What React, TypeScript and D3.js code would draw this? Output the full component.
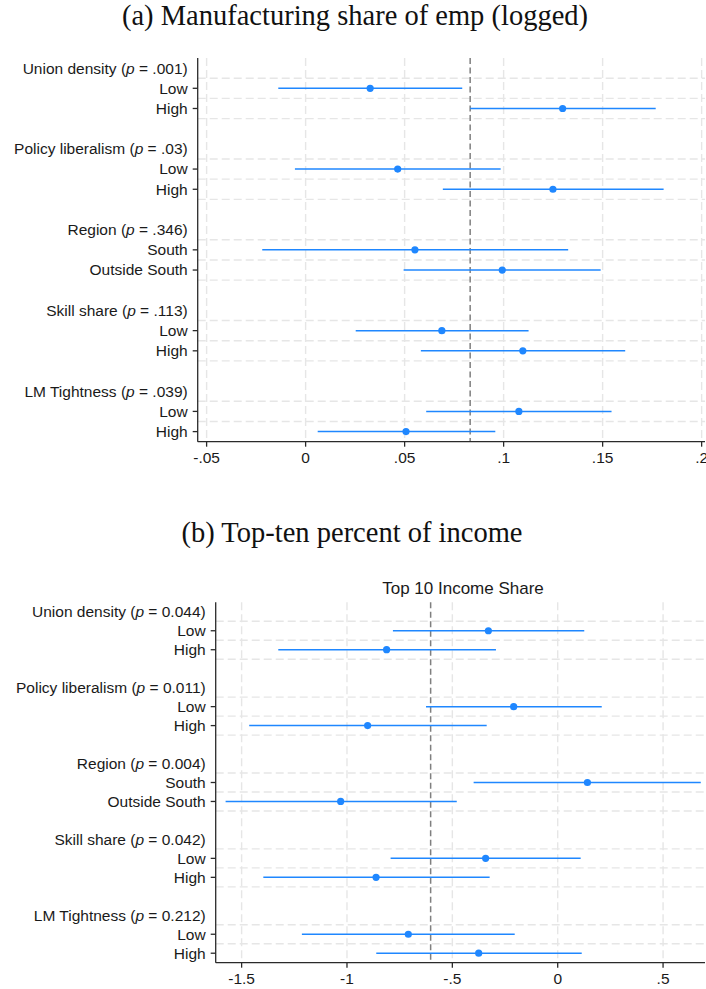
import React from "react";
import * as d3 from "d3";

// ---- Data ----
const groups = ["Union density", "Policy liberalism", "Region", "Skill share", "LM Tightness"];
const levels = [["Low", "High"], ["Low", "High"], ["South", "Outside South"], ["Low", "High"], ["Low", "High"]];

// Panel (a): Manufacturing share of emp (logged)
const pValuesA = [".001", ".03", ".346", ".113", ".039"];
const estA = [0.0326, 0.1298, 0.0465, 0.1249, 0.0552, 0.0993, 0.0688, 0.1097, 0.1077, 0.0507];
const lowA = [-0.0138, 0.0831, -0.0054, 0.0693, -0.0219, 0.0495, 0.0253, 0.0582, 0.0609, 0.0061];
const highA = [0.0791, 0.1768, 0.0985, 0.1808, 0.1326, 0.149, 0.1126, 0.1614, 0.1545, 0.0958];
const ticksA = [-0.05, 0, 0.05, 0.1, 0.15, 0.2];
const tickLabelsA = ["-.05", "0", ".05", ".1", ".15", ".2"];
const refA = 0.0831;

// Panel (b): Top-ten percent of income
const pValuesB = ["0.044", "0.011", "0.004", "0.042", "0.212"];
const estB = [-0.329, -0.812, -0.209, -0.902, 0.141, -1.03, -0.342, -0.862, -0.709, -0.375];
const lowB = [-0.782, -1.326, -0.625, -1.464, -0.399, -1.576, -0.793, -1.397, -1.214, -0.861];
const highB = [0.126, -0.293, 0.209, -0.337, 0.679, -0.479, 0.109, -0.323, -0.204, 0.114];
const ticksB = [-1.5, -1, -0.5, 0, 0.5];
const tickLabelsB = ["-1.5", "-1", "-.5", "0", ".5"];
const refB = -0.603;

const BLUE = "#1f87ff";
const GRID = "#e6e6e6";
const AXIS = "#2a2a2a";
const TEXT = "#1a1a1a";
const SANS = "'Liberation Sans', Arial, Helvetica, sans-serif";
const SERIF = "'Liberation Serif', 'Times New Roman', serif";

type PanelProps = {
  left: number; right: number; top: number; bottom: number;
  domain: [number, number];
  pValues: string[]; est: number[]; low: number[]; high: number[];
  ticks: number[]; tickLabels: string[]; refVal: number;
};

function Panel(props: PanelProps) {
  const { left, right, top, bottom, domain, pValues, est, low, high, ticks, tickLabels, refVal } = props;
  const x = d3.scaleLinear().domain(domain).range([left, right]);
  const nRows = groups.length * 4 - 1; // 19 rows
  const y = d3.scaleLinear().domain([-0.5, nRows - 0.5]).range([top, bottom]);
  const fs = 15.5;

  const gridRows: number[] = [];
  groups.forEach((_, g) => {
    gridRows.push(4 * g + 0.5, 4 * g + 1.5);
    if (g < groups.length - 1) gridRows.push(4 * g + 2.5);
  });

  const items: { row: number; i: number; label: string }[] = [];
  groups.forEach((_, g) => {
    levels[g].forEach((lab, k) => items.push({ row: 4 * g + 1 + k, i: g * 2 + k, label: lab }));
  });

  return (
    <g>
      {/* horizontal grid */}
      {gridRows.map((r) => (
        <line key={"h" + r} x1={left} x2={right} y1={y(r)} y2={y(r)} stroke={GRID} strokeWidth={1.4} strokeDasharray="8,4" />
      ))}
      {/* vertical grid */}
      {ticks.map((t) => (
        <line key={"v" + t} x1={x(t)} x2={x(t)} y1={top} y2={bottom} stroke={GRID} strokeWidth={1.4} strokeDasharray="8,4" />
      ))}
      {/* reference line */}
      <line x1={x(refVal)} x2={x(refVal)} y1={top} y2={bottom} stroke="#7f7f7f" strokeWidth={1.5} strokeDasharray="6,3.5" />
      {/* CIs and points */}
      {items.map((it) => (
        <g key={"p" + it.i}>
          <line x1={x(low[it.i])} x2={x(high[it.i])} y1={y(it.row)} y2={y(it.row)} stroke={BLUE} strokeWidth={1.5} />
          <circle cx={x(est[it.i])} cy={y(it.row)} r={3.6} fill={BLUE} />
        </g>
      ))}
      {/* axes */}
      <line x1={left} x2={left} y1={top} y2={bottom} stroke={AXIS} strokeWidth={1.3} />
      <line x1={left} x2={right} y1={bottom} y2={bottom} stroke={AXIS} strokeWidth={1.3} />
      {/* x ticks */}
      {ticks.map((t, k) => (
        <g key={"xt" + t}>
          <line x1={x(t)} x2={x(t)} y1={bottom} y2={bottom + 5} stroke={AXIS} strokeWidth={1.3} />
          <text x={x(t)} y={bottom + 21} textAnchor="middle" fontFamily={SANS} fontSize={fs} fill={TEXT}>{tickLabels[k]}</text>
        </g>
      ))}
      {/* group headers */}
      {groups.map((gname, g) => (
        <text key={"gh" + g} x={left - 10} y={y(4 * g)} dy="0.35em" textAnchor="end" fontFamily={SANS} fontSize={fs} fill={TEXT}>
          {gname} (<tspan fontStyle="italic">p</tspan> = {pValues[g]})
        </text>
      ))}
      {/* level labels with ticks */}
      {items.map((it) => (
        <g key={"yl" + it.i}>
          <line x1={left - 5} x2={left} y1={y(it.row)} y2={y(it.row)} stroke={AXIS} strokeWidth={1.3} />
          <text x={left - 10} y={y(it.row)} dy="0.35em" textAnchor="end" fontFamily={SANS} fontSize={fs} fill={TEXT}>{it.label}</text>
        </g>
      ))}
    </g>
  );
}

export default function App() {
  const W = 706, H = 989;
  return (
    <svg width={W} height={H} style={{ position: "absolute", left: 0, top: 0, background: "#fff" }}>
      <rect x={0} y={0} width={W} height={H} fill="#fff" />
      <text x={355} y={25} textAnchor="middle" fontFamily={SERIF} fontSize={28.5} fill="#111">(a) Manufacturing share of emp (logged)</text>
      <Panel left={197.7} right={705} top={58} bottom={441.7} domain={[-0.0545, 0.2017]}
        pValues={pValuesA} est={estA} low={lowA} high={highA} ticks={ticksA} tickLabels={tickLabelsA} refVal={refA} />
      <text x={352} y={542} textAnchor="middle" fontFamily={SERIF} fontSize={28.5} fill="#111">(b) Top-ten percent of income</text>
      <text x={463} y={594} textAnchor="middle" fontFamily={SANS} fontSize={17} fill={TEXT}>Top 10 Income Share</text>
      <Panel left={215.7} right={705} top={602.3} bottom={962.7} domain={[-1.623, 0.699]}
        pValues={pValuesB} est={estB} low={lowB} high={highB} ticks={ticksB} tickLabels={tickLabelsB} refVal={refB} />
    </svg>
  );
}
